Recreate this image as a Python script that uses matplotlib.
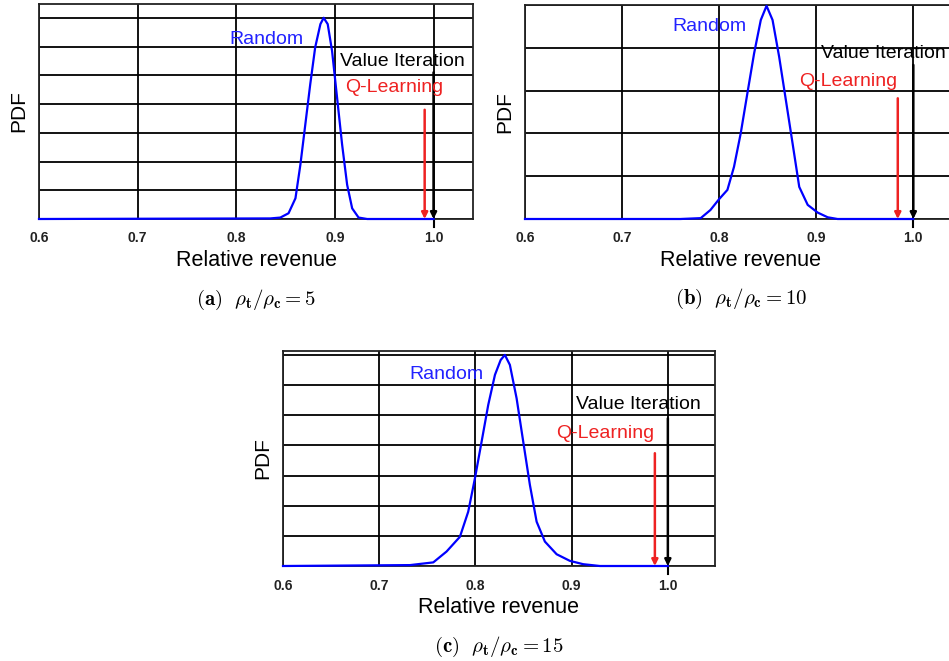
import numpy as np
import matplotlib.pyplot as plt

plt.rcParams['font.family'] = ['Liberation Sans', 'DejaVu Sans']
plt.rcParams['mathtext.fontset'] = 'cm'

# Panel (a): rho_t/rho_c = 5
x_a = [0.6, 0.8345, 0.8447, 0.853, 0.860, 0.865, 0.870, 0.875, 0.880, 0.8853,
       0.8886, 0.8927, 0.8971, 0.9022, 0.9073, 0.9124, 0.9175, 0.924, 0.9327, 1.0]
pdf_a = [0.0, 0.02, 0.05, 0.2, 0.72, 1.89, 3.29, 4.69, 5.97, 6.78,
         7.0, 6.78, 5.85, 4.22, 2.59, 1.19, 0.37, 0.05, 0.0, 0.0]

# Panel (b): rho_t/rho_c = 10
x_b = [0.6, 0.760, 0.781, 0.791, 0.7998, 0.8085, 0.8153, 0.8222, 0.8291, 0.836,
       0.8429, 0.8488, 0.855, 0.8618, 0.8687, 0.8756, 0.8825, 0.8912, 0.9015,
       0.9118, 0.922, 1.0]
pdf_b = [0.0, 0.0, 0.02, 0.21, 0.46, 0.68, 1.22, 2.0, 2.94, 3.87,
         4.65, 4.98, 4.65, 3.79, 2.78, 1.77, 0.75, 0.33, 0.15,
         0.04, 0.0, 0.0]

# Panel (c): rho_t/rho_c = 15
x_c = [0.6, 0.732, 0.7562, 0.770, 0.7839, 0.7925, 0.7995, 0.8064, 0.8133, 0.8203,
       0.8262, 0.8306, 0.8358, 0.8428, 0.8497, 0.8566, 0.8636, 0.8722, 0.8844,
       0.8982, 0.912, 0.9294, 1.0]
pdf_c = [0.0, 0.03, 0.12, 0.48, 0.97, 1.8, 2.91, 4.12, 5.34, 6.34,
         6.83, 7.0, 6.67, 5.56, 4.12, 2.69, 1.47, 0.81, 0.39,
         0.17, 0.06, 0.0, 0.0]

# arrows: (x, top of arrow)
qlearn = {'a': (0.991, 3.8), 'b': (0.984, 2.82), 'c': (0.9865, 3.74)}
valit = {'a': (1.0, 5.1), 'b': (1.0, 3.6), 'c': (1.0, 4.9)}

# label positions (x, y)
lab_random = {'a': (0.831, 6.26), 'b': (0.790, 4.49), 'c': (0.770, 6.34)}
lab_vi = {'a': (0.968, 5.49), 'b': (0.969, 3.87), 'c': (0.9695, 5.37)}
lab_ql = {'a': (0.960, 4.58), 'b': (0.933, 3.22), 'c': (0.935, 4.4)}

ratios = {'a': 5, 'b': 10, 'c': 15}
ylims = {'a': 7.48, 'b': 5.0, 'c': 7.13}
xmax = {'a': 1.040, 'b': 1.045, 'c': 1.049}
nlines = {'a': 7, 'b': 5, 'c': 7}

W, H = 949, 661
fig = plt.figure(figsize=(W / 100, H / 100), dpi=100)

boxes = {
    'a': [39 / W, 1 - 219 / H, 434 / W, 215 / H],
    'b': [525 / W, 1 - 219 / H, 432 / W, 214 / H],
    'c': [283 / W, 1 - 566 / H, 432 / W, 215 / H],
}
data = {'a': (x_a, pdf_a), 'b': (x_b, pdf_b), 'c': (x_c, pdf_c)}

for key in ['a', 'b', 'c']:
    ax = fig.add_axes(boxes[key])
    xs, ys = data[key]
    ax.plot(xs, ys, color='#0000ff', lw=1.6, zorder=4, clip_on=False,
            solid_joinstyle='round')

    ax.set_xlim(0.6, xmax[key])
    ax.set_ylim(0, ylims[key])
    ax.set_xticks([0.6, 0.7, 0.8, 0.9, 1.0])
    ax.set_xticklabels(['0.6', '0.7', '0.8', '0.9', '1.0'], fontsize=10,
                       fontweight='bold', color='#222222')
    ax.set_yticks(range(nlines[key] + 1))
    ax.set_yticklabels([])
    ax.tick_params(axis='x', length=0, pad=9)
    ax.tick_params(axis='y', length=0, pad=0)
    ax.grid(True, color='black', lw=1.3)
    ax.set_axisbelow(True)
    for s in ax.spines.values():
        s.set_linewidth(1.3)
        s.set_color('#222222')

    # arrows
    xq, tq = qlearn[key]
    ax.annotate('', xy=(xq, 0), xytext=(xq, tq),
                arrowprops=dict(arrowstyle='-|>', color='#ee2222', lw=1.8,
                                mutation_scale=9, shrinkA=0, shrinkB=0), zorder=5)
    xv, tv = valit[key]
    ax.annotate('', xy=(xv, 0), xytext=(xv, tv),
                arrowprops=dict(arrowstyle='-|>', color='black', lw=1.8,
                                mutation_scale=9, shrinkA=0, shrinkB=0), zorder=5)
    ax.plot([xv, xv], [0, -0.25 * ylims[key] / 7], color='black', lw=1.5,
            clip_on=False)

    ax.text(*lab_random[key], 'Random', color='#2222ff', fontsize=14,
            ha='center', va='center')
    ax.text(*lab_vi[key], 'Value Iteration', color='black', fontsize=14,
            ha='center', va='center', zorder=6, clip_on=False)
    ax.text(*lab_ql[key], 'Q-Learning', color='#ee2222', fontsize=14,
            ha='center', va='center', zorder=6)

    ax.set_xlabel('Relative revenue', fontsize=15.5, labelpad=3)
    ax.set_ylabel('PDF', fontsize=15, labelpad=8)

    ax.text(0.5, -0.375, r'$\mathbf{(%s)}\ \ \rho_{\mathbf{t}}/\rho_{\mathbf{c}} = %d$'
            % (key, ratios[key]), transform=ax.transAxes, ha='center',
            va='center', fontsize=15)

fig.savefig('out.png', dpi=100)
